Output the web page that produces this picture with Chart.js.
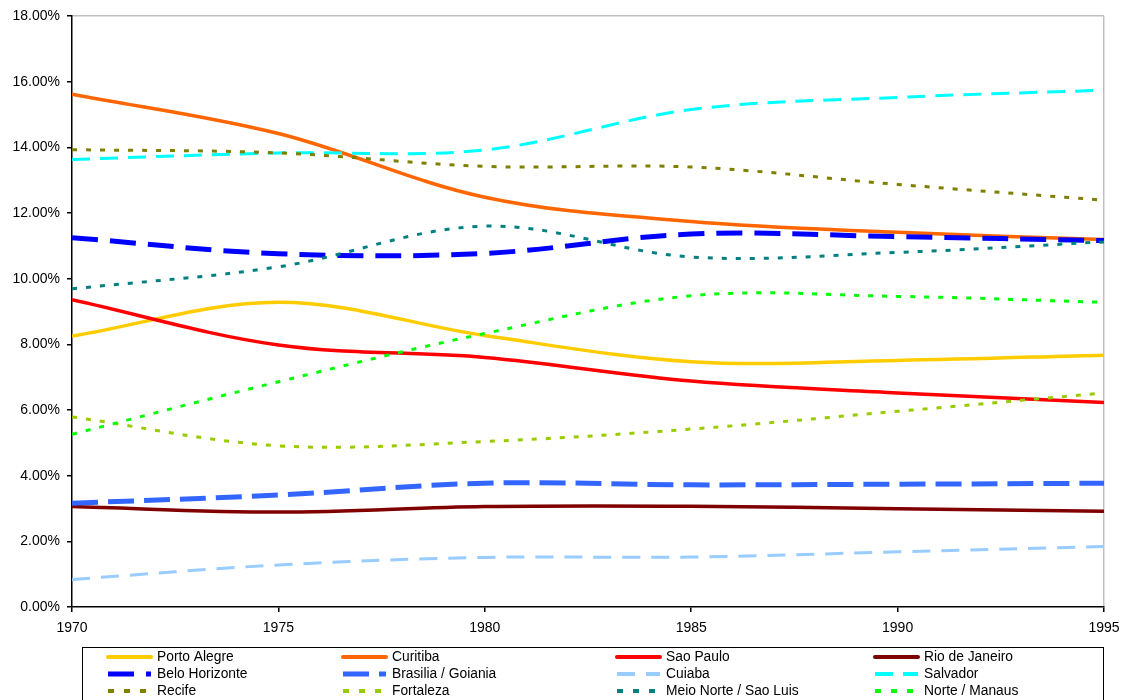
<!DOCTYPE html>
<html>
<head>
<meta charset="utf-8">
<title>Participação regional 1970-1995</title>
<script src="https://cdn.jsdelivr.net/npm/chart.js@4.4.1/dist/chart.umd.min.js"></script>
<style>
  html, body { margin: 0; padding: 0; background: #fff; }
  #wrap { width: 1131px; height: 700px; }
</style>
</head>
<body>
<div id="wrap"><canvas id="chart" width="1131" height="700"></canvas></div>
<script>
// Years on the horizontal axis
const years = [1970, 1975, 1980, 1985, 1990, 1995];

// Share of each region (%)
const portoAlegre    = [8.25, 9.28, 8.27, 7.47, 7.51, 7.67];
const curitiba       = [15.62, 14.42, 12.48, 11.74, 11.41, 11.19];
const saoPaulo       = [9.36, 7.98, 7.60, 6.88, 6.52, 6.23];
const rioDeJaneiro   = [3.06, 2.89, 3.06, 3.07, 2.99, 2.92];
const beloHorizonte  = [11.25, 10.76, 10.77, 11.36, 11.28, 11.16];
const brasilia       = [3.16, 3.41, 3.77, 3.72, 3.74, 3.77];
const cuiaba         = [0.84, 1.28, 1.51, 1.52, 1.68, 1.84];
const salvador       = [13.63, 13.83, 13.92, 15.15, 15.52, 15.74];
const recife         = [13.93, 13.83, 13.42, 13.40, 12.87, 12.39];
const fortaleza      = [5.79, 4.91, 5.04, 5.42, 5.96, 6.52];
const meioNorte      = [9.69, 10.36, 11.60, 10.66, 10.80, 11.12];
const norteManaus    = [5.26, 6.86, 8.33, 9.48, 9.46, 9.28];

// Axis ticks
const yTicks = { min: 0, max: 18, step: 2 };
const xTicks = { min: 1970, max: 1995, step: 5 };

const FONT = '"Liberation Sans", Arial, sans-serif';

const series = [
  { label: 'Porto Alegre',          values: portoAlegre,   color: '#FFCC00', width: 3.5, dash: [] },
  { label: 'Curitiba',              values: curitiba,      color: '#FF6600', width: 3.5, dash: [] },
  { label: 'Sao Paulo',             values: saoPaulo,      color: '#FF0000', width: 3.5, dash: [] },
  { label: 'Rio de Janeiro',        values: rioDeJaneiro,  color: '#800000', width: 3.5, dash: [] },
  { label: 'Belo Horizonte',        values: beloHorizonte, color: '#0000FF', width: 5,   dash: [26, 12] },
  { label: 'Brasilia / Goiania',    values: brasilia,      color: '#3366FF', width: 5,   dash: [26, 10] },
  { label: 'Cuiaba',                values: cuiaba,        color: '#99CCFF', width: 3,   dash: [18, 11] },
  { label: 'Salvador',              values: salvador,      color: '#00FFFF', width: 3,   dash: [18, 10] },
  { label: 'Recife',                values: recife,        color: '#808000', width: 3,   dash: [5, 9] },
  { label: 'Fortaleza',             values: fortaleza,     color: '#99CC00', width: 3,   dash: [5, 9] },
  { label: 'Meio Norte / Sao Luis', values: meioNorte,     color: '#008080', width: 3,   dash: [5, 9] },
  { label: 'Norte / Manaus',        values: norteManaus,   color: '#00FF00', width: 3,   dash: [5, 9] }
];

const datasets = series.map((s, i) => ({
  label: s.label,
  data: years.map((x, k) => ({ x: x, y: s.values[k] })),
  borderColor: s.color,
  backgroundColor: s.color,
  borderWidth: s.width,
  borderDash: s.dash,
  pointRadius: 0,
  pointHoverRadius: 0,
  tension: 0.35,
  fill: false,
  order: series.length - i   // later series are painted on top
}));

// Four-column legend box under the plot
const gridLegend = {
  id: 'gridLegend',
  afterDraw(chart) {
    const ctx = chart.ctx;
    const cols = [108, 343, 617, 875];
    const rows = [657, 674, 691];
    ctx.save();
    ctx.strokeStyle = '#000';
    ctx.lineWidth = 1;
    ctx.setLineDash([]);
    ctx.strokeRect(82.5, 647.5, 1021, 70);
    ctx.font = '13.8px ' + FONT;
    ctx.textBaseline = 'middle';
    ctx.textAlign = 'left';
    chart.data.datasets.forEach((ds, i) => {
      const x0 = cols[i % 4];
      const y = rows[Math.floor(i / 4)];
      ctx.beginPath();
      ctx.strokeStyle = ds.borderColor;
      ctx.lineWidth = Math.max(ds.borderWidth, 4);
      ctx.lineCap = ds.borderDash.length ? 'butt' : 'round';
      ctx.setLineDash(ds.borderDash.length === 2 && ds.borderDash[0] < 8 ? [6, 10] : ds.borderDash);
      ctx.moveTo(x0, y);
      ctx.lineTo(x0 + 43, y);
      ctx.stroke();
      ctx.setLineDash([]);
      ctx.fillStyle = '#000';
      ctx.fillText(ds.label, x0 + 49, y);
    });
    ctx.restore();
  }
};

new Chart(document.getElementById('chart'), {
  type: 'line',
  data: { datasets },
  plugins: [gridLegend],
  options: {
    responsive: false,
    animation: false,
    devicePixelRatio: 1,
    layout: { padding: { left: 0, top: 16, right: 27, bottom: 63 } },
    plugins: {
      legend: { display: false },
      tooltip: { enabled: false },
      title: { display: false }
    },
    scales: {
      x: {
        type: 'linear',
        min: xTicks.min,
        max: xTicks.max,
        ticks: {
          stepSize: xTicks.step,
          callback: v => String(v),
          color: '#000',
          font: { family: FONT, size: 14 },
          padding: 8,
          maxRotation: 0
        },
        grid: {
          color: c => (c.tick && c.tick.value === xTicks.max) ? '#c0c0c0' : 'rgba(0,0,0,0)',
          tickColor: '#000',
          tickLength: 5,
          lineWidth: 1.5
        },
        border: { color: '#000', width: 1.5 },
        afterFit: s => { s.height = 30; }
      },
      y: {
        min: yTicks.min,
        max: yTicks.max,
        ticks: {
          stepSize: yTicks.step,
          callback: v => v.toFixed(2) + '%',
          color: '#000',
          font: { family: FONT, size: 14 },
          padding: 7
        },
        grid: {
          color: c => (c.tick && c.tick.value === yTicks.max) ? '#c0c0c0' : 'rgba(0,0,0,0)',
          tickColor: '#000',
          tickLength: 5,
          lineWidth: 1.5
        },
        border: { color: '#000', width: 1.5 },
        afterFit: s => { s.width = 72; }
      }
    }
  }
});
</script>
</body>
</html>
